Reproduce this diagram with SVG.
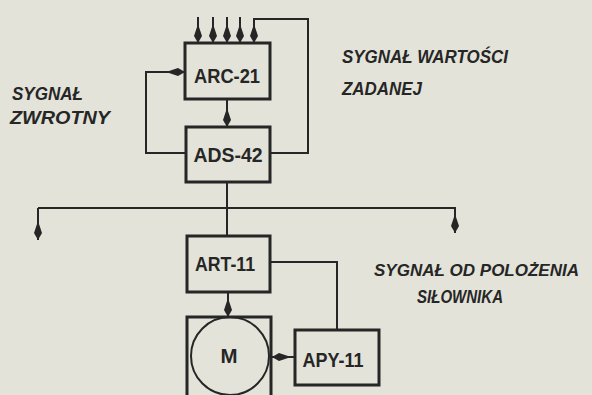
<svg xmlns="http://www.w3.org/2000/svg" width="592" height="395" viewBox="0 0 592 395">
<defs>
<marker id="ah" markerUnits="userSpaceOnUse" markerWidth="18" markerHeight="12" viewBox="-17 -6 18 12" refX="0" refY="0" orient="auto">
<path d="M-16,-1 L-7,-4 L0,0 L-7,4 L-16,1 Z" fill="#262626"/>
</marker>
<style>
.box{fill:none;stroke:#262626;stroke-width:3}
.ln{fill:none;stroke:#262626;stroke-width:2}
.bl{font-family:"Liberation Sans",Arial,sans-serif;font-weight:bold;font-size:21px;fill:#262626;text-anchor:middle}
.lab{font-family:"Liberation Sans",Arial,sans-serif;font-weight:bold;font-style:italic;font-size:19px;fill:#262626}
.lab.sm{font-size:17px}
</style>
</defs>
<rect width="592" height="395" fill="#e3e3d9"/>
<g id="connectors">
<line class="ln" x1="198" y1="17" x2="198" y2="43" marker-end="url(#ah)"/>
<line class="ln" x1="213" y1="17" x2="213" y2="43" marker-end="url(#ah)"/>
<line class="ln" x1="227" y1="17" x2="227" y2="43" marker-end="url(#ah)"/>
<line class="ln" x1="240" y1="17" x2="240" y2="43" marker-end="url(#ah)"/>
<path class="ln" d="M270,153 H308 V19 H254 V43" marker-end="url(#ah)"/>
<path class="ln" d="M186,153 H146 V72 H185" marker-end="url(#ah)"/>
<line class="ln" x1="227" y1="99" x2="227" y2="127" marker-end="url(#ah)"/>
<line class="ln" x1="227" y1="182" x2="227" y2="236"/>
<line class="ln" x1="38" y1="208" x2="455" y2="208"/>
<line class="ln" x1="38" y1="208" x2="38" y2="240" marker-end="url(#ah)"/>
<line class="ln" x1="455" y1="207" x2="455" y2="233" marker-end="url(#ah)"/>
<path class="ln" d="M270,262 H337 V330"/>
<line class="ln" x1="228" y1="292" x2="228" y2="317" marker-end="url(#ah)"/>
<line class="ln" x1="295" y1="357" x2="272" y2="357" marker-end="url(#ah)"/>
</g>
<g id="arc21">
<rect class="box" x="185" y="43" width="85" height="56"/>
<text class="bl" x="227" y="83" textLength="66" lengthAdjust="spacingAndGlyphs">ARC-21</text>
</g>
<g id="ads42">
<rect class="box" x="186" y="127" width="84" height="55"/>
<text class="bl" x="228" y="162" textLength="69" lengthAdjust="spacingAndGlyphs">ADS-42</text>
</g>
<g id="art11">
<rect class="box" x="187" y="236" width="83" height="56"/>
<text class="bl" x="225" y="271" textLength="60" lengthAdjust="spacingAndGlyphs">ART-11</text>
</g>
<g id="apy11">
<rect class="box" x="295" y="330" width="84" height="55"/>
<text class="bl" x="333" y="367" textLength="61" lengthAdjust="spacingAndGlyphs">APY-11</text>
</g>
<g id="motor">
<rect class="box" x="187" y="317" width="84" height="90"/>
<circle class="ln" cx="230" cy="356" r="39"/>
<text class="bl" x="229" y="363" textLength="17" lengthAdjust="spacingAndGlyphs">M</text>
</g>
<g id="labels">
<text class="lab" x="12" y="100" textLength="71" lengthAdjust="spacingAndGlyphs">SYGNAŁ</text>
<text class="lab" x="10" y="124" textLength="100" lengthAdjust="spacingAndGlyphs">ZWROTNY</text>
<text class="lab" x="342" y="63" textLength="166" lengthAdjust="spacingAndGlyphs">SYGNAŁ WARTOŚCI</text>
<text class="lab" x="342" y="95" textLength="80" lengthAdjust="spacingAndGlyphs">ZADANEJ</text>
<text class="lab sm" x="374" y="276" textLength="205" lengthAdjust="spacingAndGlyphs">SYGNAŁ OD POLO&#379;ENIA</text>
<text class="lab" x="417" y="303" textLength="86" lengthAdjust="spacingAndGlyphs">SIŁOWNIKA</text>
</g>
</svg>
